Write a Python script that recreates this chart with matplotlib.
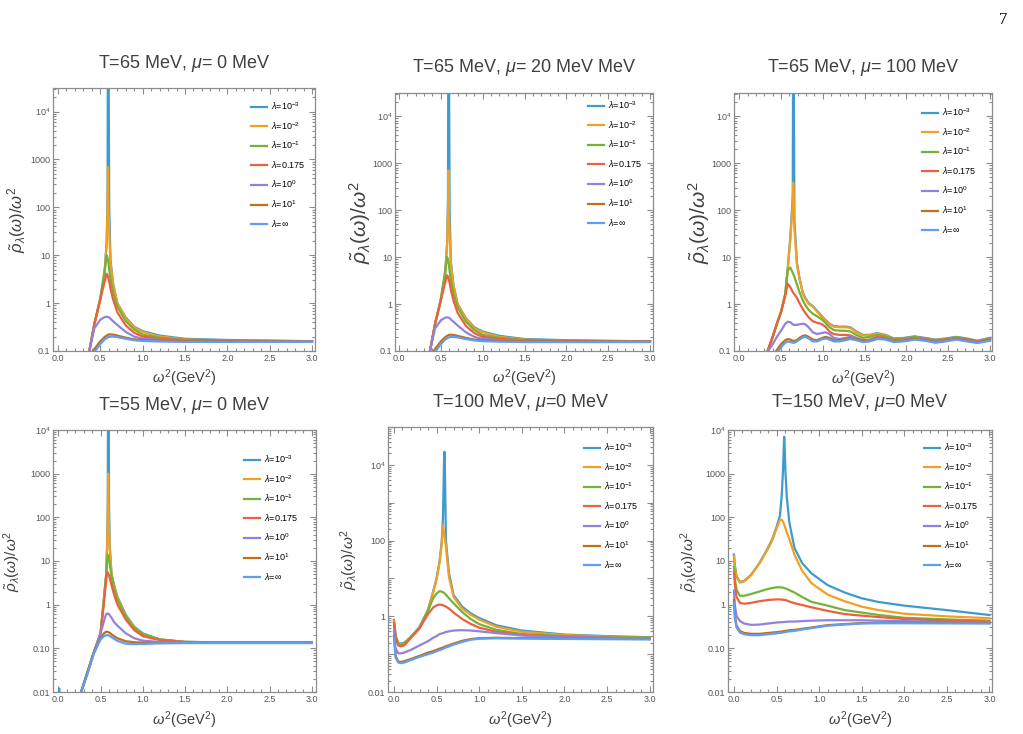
import numpy as np
import matplotlib
matplotlib.use("Agg")
import matplotlib.pyplot as plt
from matplotlib.ticker import LogLocator, NullFormatter, MultipleLocator

plt.rcParams['font.family'] = ['Liberation Sans', 'DejaVu Sans']
plt.rcParams['mathtext.fontset'] = 'custom'
plt.rcParams['mathtext.rm'] = 'Liberation Sans'
plt.rcParams['mathtext.it'] = 'Liberation Sans:italic'
plt.rcParams['mathtext.bf'] = 'Liberation Sans:bold'

# curve colours / legend labels (same order in every panel)
colors = ['#3e9bcc', '#f2a024', '#74b336', '#eb6140', '#9382db', '#c56e1a', '#5e9ef5']
labels = [r'$\lambda$=10$^{-3}$', r'$\lambda$=10$^{-2}$', r'$\lambda$=10$^{-1}$',
          r'$\lambda$=0.175', r'$\lambda$=10$^{0}$', r'$\lambda$=10$^{1}$', r'$\lambda$=$\infty$']

# ---- T=65 MeV, mu=0 ----
xa = [0.00, 0.30, 0.37, 0.43, 0.50, 0.55, 0.575, 0.585, 0.59, 0.595, 0.605, 0.62, 0.65, 0.70,
      0.80, 0.90, 1.00, 1.20, 1.50, 2.00, 2.50, 3.00]
blue_a = [1e-3, 0.04, 0.1, 0.37, 1.2, 4, 20, 150, 1e6, 1e6, 100, 8, 2.6, 1.0, 0.5, 0.32, 0.26, 0.21, 0.18, 0.17, 0.165, 0.16]
orange_a = [1e-3, 0.04, 0.1, 0.37, 1.2, 4, 18, 100, 700, 100, 30, 7, 2.5, 1.0, 0.48, 0.31, 0.25, 0.2, 0.175, 0.165, 0.162, 0.16]
green_a = [1e-3, 0.04, 0.1, 0.37, 1.3, 4.9, 10, 9, 8, 7, 5, 3.2, 1.7, 0.85, 0.42, 0.28, 0.22, 0.19, 0.17, 0.165, 0.162, 0.16]
red_a = [1e-3, 0.04, 0.1, 0.37, 1.2, 2.8, 4.1, 3.8, 3.6, 3.3, 2.8, 2.0, 1.2, 0.65, 0.34, 0.24, 0.2, 0.18, 0.17, 0.163, 0.16, 0.16]
purple_a = [1e-3, 0.04, 0.1, 0.3, 0.45, 0.51, 0.52, 0.52, 0.515, 0.51, 0.5, 0.47, 0.42, 0.35, 0.25, 0.2, 0.18, 0.17, 0.165, 0.16, 0.16, 0.16]
brown_a = [1e-3, 0.02, 0.07, 0.11, 0.16, 0.195, 0.21, 0.215, 0.218, 0.22, 0.222, 0.222, 0.22, 0.21, 0.19, 0.175, 0.17, 0.165, 0.16, 0.16, 0.158, 0.158]
lblue_a = [1e-3, 0.02, 0.045, 0.095, 0.14, 0.175, 0.185, 0.19, 0.192, 0.194, 0.197, 0.2, 0.2, 0.195, 0.18, 0.168, 0.162, 0.158, 0.155, 0.155, 0.155, 0.155]

# ---- T=65 MeV, mu=20 (reads the same as mu=0) ----
xb = xa
blue_b, orange_b, green_b, red_b = blue_a, orange_a, green_a, red_a
purple_b, brown_b, lblue_b = purple_a, brown_a, lblue_a

# ---- T=65 MeV, mu=100 ----
xc = [0.00, 0.33, 0.40, 0.45, 0.50, 0.55, 0.58, 0.61, 0.64, 0.645, 0.65, 0.66, 0.69, 0.72, 0.76, 0.79,
      0.83, 0.88, 0.93, 0.98, 1.03, 1.08, 1.13, 1.20, 1.27, 1.33, 1.40, 1.48, 1.56, 1.65, 1.75, 1.85,
      1.97, 2.10, 2.22, 2.35, 2.47, 2.60, 2.72, 2.85, 3.00]
blue_c = [1e-3, 0.09, 0.2, 0.38, 0.68, 1.6, 6, 25, 200, 1e6, 1e6, 60, 7.5, 3.6, 1.75, 1.35,
          1.05, 0.9, 0.72, 0.57, 0.46, 0.38, 0.34, 0.33, 0.33, 0.32, 0.26, 0.22, 0.22, 0.24, 0.22, 0.185,
          0.19, 0.205, 0.19, 0.175, 0.185, 0.2, 0.185, 0.165, 0.19]
orange_c = [1e-3, 0.09, 0.2, 0.38, 0.68, 1.6, 5.5, 22, 150, 380, 250, 40, 7, 3.5, 1.7, 1.3,
            1.0, 0.88, 0.69, 0.55, 0.44, 0.37, 0.33, 0.32, 0.32, 0.31, 0.25, 0.215, 0.215, 0.235, 0.215, 0.18,
            0.185, 0.2, 0.185, 0.17, 0.18, 0.195, 0.18, 0.16, 0.185]
green_c = [1e-3, 0.09, 0.2, 0.38, 0.68, 1.6, 5.2, 6.0, 4.6, 4.4, 4.2, 3.8, 2.6, 1.8, 1.2, 0.95,
           0.75, 0.62, 0.55, 0.48, 0.4, 0.32, 0.28, 0.27, 0.27, 0.26, 0.22, 0.19, 0.2, 0.22, 0.205, 0.18,
           0.185, 0.2, 0.185, 0.17, 0.18, 0.195, 0.18, 0.162, 0.185]
red_c = [1e-3, 0.09, 0.2, 0.38, 0.68, 1.5, 2.7, 2.3, 1.8, 1.75, 1.7, 1.6, 1.35, 1.05, 0.78, 0.65,
         0.52, 0.43, 0.4, 0.38, 0.33, 0.26, 0.23, 0.22, 0.22, 0.215, 0.19, 0.17, 0.175, 0.2, 0.19, 0.17,
         0.175, 0.19, 0.18, 0.165, 0.175, 0.19, 0.175, 0.16, 0.18]
purple_c = [1e-3, 0.09, 0.14, 0.2, 0.27, 0.38, 0.42, 0.41, 0.37, 0.365, 0.36, 0.36, 0.36, 0.37, 0.38, 0.37,
            0.32, 0.25, 0.23, 0.24, 0.25, 0.23, 0.19, 0.18, 0.19, 0.2, 0.19, 0.165, 0.17, 0.19, 0.185, 0.165,
            0.17, 0.185, 0.175, 0.16, 0.17, 0.185, 0.17, 0.155, 0.175]
brown_c = [1e-3, 0.05, 0.08, 0.105, 0.14, 0.17, 0.18, 0.175, 0.165, 0.165, 0.165, 0.165, 0.17, 0.19, 0.21, 0.215,
           0.2, 0.175, 0.17, 0.185, 0.2, 0.19, 0.17, 0.17, 0.18, 0.19, 0.18, 0.16, 0.165, 0.185, 0.18, 0.16,
           0.165, 0.18, 0.17, 0.155, 0.165, 0.18, 0.165, 0.152, 0.17]
lblue_c = [1e-3, 0.04, 0.065, 0.09, 0.12, 0.15, 0.16, 0.155, 0.15, 0.15, 0.15, 0.15, 0.16, 0.175, 0.195, 0.2,
           0.185, 0.16, 0.16, 0.175, 0.185, 0.175, 0.16, 0.16, 0.17, 0.18, 0.17, 0.155, 0.16, 0.18, 0.175, 0.155,
           0.16, 0.175, 0.165, 0.15, 0.16, 0.175, 0.16, 0.148, 0.165]

# ---- T=55 MeV, mu=0 ----
xd = [0.00, 0.005, 0.01, 0.015, 0.02, 0.27, 0.35, 0.42, 0.50, 0.54, 0.565, 0.58, 0.585, 0.59, 0.595,
      0.60, 0.61, 0.63, 0.66, 0.70, 0.80, 0.90, 1.00, 1.20, 1.50, 2.00, 3.00]
blue_d = [1e-4, 1e-4, 0.012, 1e-4, 1e-4, 0.01, 0.03, 0.08, 0.22, 1.4, 4.5, 30, 200, 1e6, 1e6,
          200, 20, 5, 2.8, 1.5, 0.58, 0.31, 0.22, 0.16, 0.14, 0.137, 0.137]
orange_d = [1e-4, 1e-4, 1e-4, 1e-4, 1e-4, 0.01, 0.03, 0.08, 0.22, 1.4, 4.5, 30, 150, 1000, 150,
            60, 18, 4.8, 2.7, 1.45, 0.55, 0.3, 0.21, 0.16, 0.14, 0.137, 0.137]
green_d = [1e-4, 1e-4, 1e-4, 1e-4, 1e-4, 0.01, 0.03, 0.08, 0.22, 1.3, 4.5, 12, 14, 13, 12,
           11, 8, 4.5, 2.3, 1.3, 0.53, 0.29, 0.21, 0.16, 0.14, 0.137, 0.137]
red_d = [1e-4, 1e-4, 1e-4, 1e-4, 1e-4, 0.01, 0.03, 0.08, 0.22, 1.1, 3.5, 5.6, 5.4, 5.2, 5.0,
         4.7, 4.0, 2.8, 1.7, 1.0, 0.45, 0.26, 0.19, 0.155, 0.14, 0.137, 0.137]
purple_d = [1e-4, 1e-4, 1e-4, 1e-4, 1e-4, 0.01, 0.03, 0.08, 0.22, 0.42, 0.6, 0.63, 0.625, 0.62, 0.61,
            0.6, 0.57, 0.5, 0.4, 0.33, 0.22, 0.17, 0.15, 0.14, 0.137, 0.135, 0.135]
brown_d = [1e-4, 1e-4, 1e-4, 1e-4, 1e-4, 0.01, 0.03, 0.08, 0.17, 0.22, 0.24, 0.24, 0.238, 0.236, 0.234,
           0.23, 0.225, 0.21, 0.19, 0.17, 0.145, 0.138, 0.135, 0.133, 0.133, 0.133, 0.133]
lblue_d = [1e-4, 1e-4, 1e-4, 1e-4, 1e-4, 0.01, 0.028, 0.075, 0.16, 0.19, 0.198, 0.2, 0.2, 0.199, 0.198,
           0.196, 0.19, 0.18, 0.165, 0.148, 0.128, 0.125, 0.126, 0.13, 0.132, 0.132, 0.132]

# ---- T=100 MeV, mu=0 ----
xe = [0.0, 0.02, 0.05, 0.08, 0.12, 0.2, 0.3, 0.4, 0.46, 0.5, 0.535, 0.56, 0.575, 0.59, 0.595, 0.61,
      0.645, 0.7, 0.8, 0.9, 1.0, 1.2, 1.5, 2.0, 2.5, 3.0]
blue_e = [0.8, 0.3, 0.2, 0.19, 0.2, 0.29, 0.52, 1.5, 4.5, 10, 28, 90, 400, 2.2e4, 2.2e4, 100,
          14, 3.6, 1.8, 1.2, 0.9, 0.58, 0.42, 0.33, 0.3, 0.28]
orange_e = [0.75, 0.29, 0.19, 0.18, 0.19, 0.28, 0.5, 1.45, 4.3, 9.5, 26, 80, 250, 150, 120, 68,
            11, 3.2, 1.6, 1.1, 0.82, 0.53, 0.39, 0.32, 0.29, 0.27]
green_e = [0.7, 0.28, 0.18, 0.17, 0.18, 0.28, 0.5, 1.4, 3.0, 4.0, 4.6, 4.5, 4.3, 4.1, 4.0, 3.7,
           3.0, 2.2, 1.3, 0.85, 0.62, 0.44, 0.34, 0.3, 0.28, 0.27]
red_e = [0.65, 0.27, 0.17, 0.16, 0.17, 0.27, 0.48, 1.15, 1.7, 1.95, 2.05, 2.0, 1.95, 1.9, 1.88, 1.8,
         1.6, 1.25, 0.85, 0.63, 0.5, 0.39, 0.32, 0.29, 0.27, 0.26]
purple_e = [0.4, 0.14, 0.105, 0.105, 0.11, 0.13, 0.17, 0.22, 0.27, 0.3, 0.34, 0.35, 0.36, 0.37, 0.375, 0.385,
            0.4, 0.42, 0.43, 0.42, 0.4, 0.36, 0.31, 0.28, 0.27, 0.26]
brown_e = [0.3, 0.09, 0.064, 0.062, 0.065, 0.075, 0.09, 0.11, 0.12, 0.13, 0.14, 0.145, 0.15, 0.155, 0.157, 0.162,
           0.172, 0.19, 0.225, 0.25, 0.265, 0.27, 0.265, 0.26, 0.255, 0.25]
lblue_e = [0.28, 0.08, 0.06, 0.058, 0.06, 0.07, 0.085, 0.1, 0.11, 0.12, 0.128, 0.133, 0.138, 0.143, 0.145, 0.15,
           0.16, 0.178, 0.21, 0.24, 0.255, 0.262, 0.258, 0.252, 0.248, 0.245]

# ---- T=150 MeV, mu=0 ----
xf = [0.0, 0.01, 0.03, 0.07, 0.12, 0.2, 0.3, 0.4, 0.45, 0.5, 0.54, 0.56, 0.575, 0.583, 0.59, 0.597,
      0.605, 0.62, 0.65, 0.71, 0.8, 0.91, 1.1, 1.3, 1.5, 1.7, 2.0, 2.5, 3.0]
blue_f = [14, 8, 4.5, 3.3, 3.5, 4.8, 9, 20, 32, 60, 110, 300, 1060, 3200, 7000, 3200,
          1060, 300, 77, 20, 9, 5.2, 2.8, 1.9, 1.4, 1.15, 0.95, 0.75, 0.58]
orange_f = [13, 7.5, 4.3, 3.2, 3.4, 4.7, 8.8, 19, 30, 55, 88, 88, 80, 74, 68, 62,
            56, 45, 32, 14, 6, 3.1, 1.7, 1.2, 0.9, 0.75, 0.62, 0.54, 0.49]
green_f = [7.4, 4, 2.2, 1.6, 1.6, 1.75, 2.0, 2.3, 2.4, 2.5, 2.5, 2.48, 2.45, 2.43, 2.4, 2.38,
           2.35, 2.3, 2.15, 1.9, 1.5, 1.16, 0.95, 0.75, 0.66, 0.58, 0.5, 0.46, 0.43]
red_f = [5.6, 3, 1.5, 1.1, 1.05, 1.1, 1.2, 1.28, 1.3, 1.32, 1.32, 1.31, 1.3, 1.29, 1.28, 1.28,
         1.27, 1.25, 1.18, 1.08, 0.98, 0.87, 0.72, 0.61, 0.56, 0.52, 0.47, 0.43, 0.41]
purple_f = [2.1, 1.0, 0.55, 0.42, 0.37, 0.345, 0.35, 0.37, 0.38, 0.39, 0.395, 0.397, 0.4, 0.4, 0.4, 0.403,
            0.405, 0.405, 0.41, 0.41, 0.42, 0.43, 0.44, 0.44, 0.44, 0.43, 0.42, 0.4, 0.39]
brown_f = [1.3, 0.6, 0.33, 0.25, 0.225, 0.215, 0.215, 0.225, 0.23, 0.235, 0.24, 0.243, 0.245, 0.248, 0.25, 0.25,
           0.251, 0.253, 0.26, 0.265, 0.28, 0.3, 0.34, 0.36, 0.38, 0.385, 0.39, 0.385, 0.38]
lblue_f = [1.1, 0.5, 0.3, 0.23, 0.21, 0.2, 0.2, 0.21, 0.215, 0.22, 0.225, 0.228, 0.23, 0.233, 0.235, 0.236,
           0.237, 0.24, 0.245, 0.25, 0.27, 0.29, 0.33, 0.35, 0.37, 0.375, 0.375, 0.372, 0.37]

yticks_top = [0.1, 1, 10, 100, 1000, 1e4]
ylabels_top = ['0.1', '1', '10', '100', '1000', r'10$^4$']
yticks_bot = [0.01, 0.1, 1, 10, 100, 1000, 1e4]
ylabels_bot = ['0.01', '0.10', '1', '10', '100', '1000', r'10$^4$']
yticks_mid = [0.01, 0.1, 1, 10, 100, 1000, 1e4, 1e5]
ylabels_mid = ['0.01', '', '1', '', '100', '', r'10$^4$', '']

W, H = 1023.0, 734.0
GRAY = '#8c8c8c'
TXT = '#404040'

fig = plt.figure(figsize=(W / 100, H / 100), dpi=100)


def panel(box, x, curves, xlim, ylim, yt, yl, title, title_y, ylab_x, ylab_size, xlab_y, leg_xy):
    l, t, r, b = box
    ax = fig.add_axes([l / W, 1 - b / H, (r - l) / W, (b - t) / H])
    for y, c, lab in zip(curves, colors, labels):
        ax.plot(x, y, color=c, lw=1.6, label=lab, solid_joinstyle='round')
    ax.set_yscale('log')
    ax.set_xlim(*xlim)
    ax.set_ylim(*ylim)
    ax.set_yticks(yt, yl)
    ax.yaxis.set_minor_locator(LogLocator(base=10, subs=np.arange(2, 10), numticks=20))
    ax.yaxis.set_minor_formatter(NullFormatter())
    ax.set_xticks([0, 0.5, 1, 1.5, 2, 2.5, 3], ['0.0', '0.5', '1.0', '1.5', '2.0', '2.5', '3.0'])
    ax.xaxis.set_minor_locator(MultipleLocator(0.1))
    ax.tick_params(which='both', direction='in', top=True, right=True, colors=GRAY,
                   labelcolor='#555555', labelsize=6.5, width=0.8)
    ax.tick_params(which='major', length=4, pad=2)
    ax.tick_params(which='minor', length=2)
    for s in ax.spines.values():
        s.set_color(GRAY)
        s.set_linewidth(0.9)
    cx = (l + r) / 2 / W
    fig.text(cx, 1 - title_y / H, title, ha='center', va='center', fontsize=13, color=TXT)
    fig.text(cx, 1 - xlab_y / H, r'$\omega^2$(GeV$^2$)', ha='center', va='center',
             fontsize=10.5, color=TXT)
    fig.text(ylab_x / W, 1 - (t + b) / 2 / H, r'$\tilde{\rho}_\lambda(\omega)/\omega^2$',
             ha='center', va='center', rotation=90, fontsize=ylab_size, color=TXT)
    hx, hy = leg_xy
    ax.legend(loc='upper left', bbox_to_anchor=((hx - l) / (r - l), (b - hy) / (b - t)),
              frameon=False, fontsize=6.5, handlelength=1.75, handletextpad=0.5,
              labelspacing=0.9, borderpad=0, borderaxespad=0)
    return ax


panel((53, 88, 315, 351), xa, [blue_a, orange_a, green_a, red_a, purple_a, brown_a, lblue_a],
      (-0.059, 3.035), (0.1, 3.1e4), yticks_top, ylabels_top,
      r'T=65 MeV, $\mu$= 0 MeV', 63, 17, 12, 378, (251, 100))
panel((395, 93, 653, 351), xb, [blue_b, orange_b, green_b, red_b, purple_b, brown_b, lblue_b],
      (-0.048, 3.036), (0.1, 3.1e4), yticks_top, ylabels_top,
      r'T=65 MeV, $\mu$= 20 MeV MeV', 68, 360, 15, 378, (588, 99))
panel((734, 93, 992, 351), xc, [blue_c, orange_c, green_c, red_c, purple_c, brown_c, lblue_c],
      (-0.063, 3.024), (0.1, 3.1e4), yticks_top, ylabels_top,
      r'T=65 MeV, $\mu$= 100 MeV', 68, 699, 15, 379, (922, 106))
panel((53, 430, 316, 692), xd, [blue_d, orange_d, green_d, red_d, purple_d, brown_d, lblue_d],
      (-0.063, 3.05), (0.01, 1e4), yticks_bot, ylabels_bot,
      r'T=55 MeV, $\mu$= 0 MeV', 405, 12, 11, 720, (244, 453))
panel((388, 427, 653, 692), xe, [blue_e, orange_e, green_e, red_e, purple_e, brown_e, lblue_e],
      (-0.07, 3.04), (0.01, 1e5), yticks_mid, ylabels_mid,
      r'T=100 MeV, $\mu$=0 MeV', 403, 349, 11, 720, (584, 441))
panel((728, 430, 992, 692), xf, [blue_f, orange_f, green_f, red_f, purple_f, brown_f, lblue_f],
      (-0.07, 3.03), (0.01, 1e4), yticks_bot, ylabels_bot,
      r'T=150 MeV, $\mu$=0 MeV', 403, 689, 11, 720, (924, 441))

fig.text(1003 / W, 1 - 20 / H, '7', ha='center', va='center', fontsize=12,
         family='Liberation Serif', color='black')

fig.savefig('out.png', dpi=100, facecolor='white')
